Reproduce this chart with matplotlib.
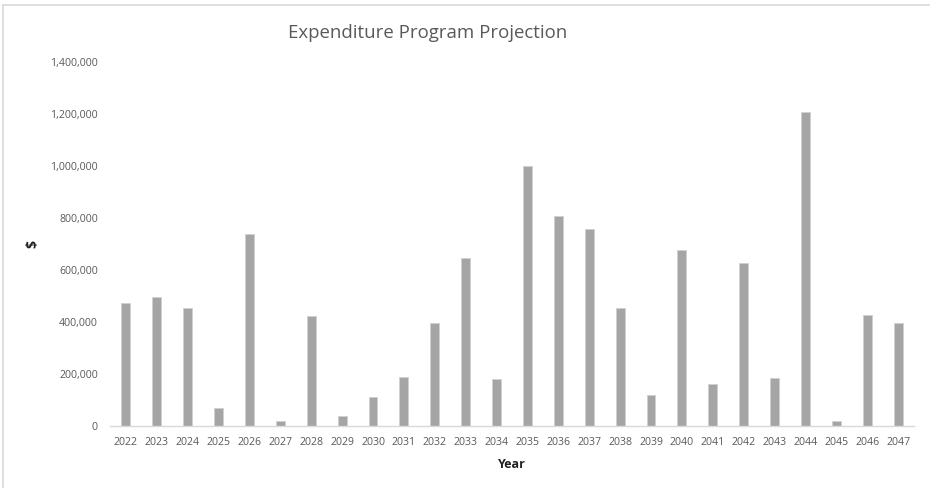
import matplotlib
matplotlib.use("Agg")
import matplotlib.pyplot as plt
from matplotlib.ticker import FuncFormatter, MultipleLocator
from matplotlib.lines import Line2D

# Yearly expenditure projection ($)
years = [str(y) for y in range(2022, 2048)]
spend = [
    474000, 497000, 454000, 69000, 737000, 20000, 423000, 38000,
    113000, 187000, 395000, 645000, 182000, 1000000, 806000, 759000,
    453000, 118000, 678000, 163000, 626000, 183000, 1206000, 20000,
    428000, 397000,
]

BAR_COLOR = "#a5a5a5"
TEXT_COLOR = "#595959"
FONT = ["Open Sans", "DejaVu Sans"]

fig = plt.figure(figsize=(9.3, 4.88), dpi=100)
ax = fig.add_axes([0.1188, 0.127, 0.8635, 0.746])

x = range(len(years))
ax.bar(x, spend, width=0.29, color=BAR_COLOR, edgecolor="#d0d0d0", linewidth=0.6)

ax.set_xlim(-0.5, len(years) - 0.5)
ax.set_ylim(0, 1400000)
ax.yaxis.set_major_locator(MultipleLocator(200000))
ax.yaxis.set_major_formatter(FuncFormatter(lambda v, _: f"{int(v):,}"))
ax.set_xticks(list(x))
ax.set_xticklabels(years)

for side in ("top", "right", "left"):
    ax.spines[side].set_visible(False)
ax.spines["bottom"].set_color("#d9d9d9")
ax.spines["bottom"].set_linewidth(1.0)
ax.tick_params(axis="both", length=0, colors=TEXT_COLOR, labelsize=7.6)
ax.tick_params(axis="x", pad=8)
ax.tick_params(axis="y", pad=9)
for lab in ax.get_xticklabels() + ax.get_yticklabels():
    lab.set_family(FONT)

ax.set_xlabel("Year", fontsize=9, fontweight="bold", color="#222222",
              family=FONT, labelpad=7)
ax.set_ylabel("$", fontsize=10, fontweight="bold", color="#222222", family=FONT)
ax.yaxis.set_label_coords(-0.089, 0.5)

fig.text(0.460, 0.932, "Expenditure Program Projection", ha="center", va="center",
         fontsize=13.4, color=TEXT_COLOR, family=FONT)

# light chart-area frame along the top and left edges
fig.add_artist(Line2D([0.003, 1.0], [0.989, 0.989], transform=fig.transFigure,
                      color="#d9d9d9", linewidth=1.2))
fig.add_artist(Line2D([0.003, 0.003], [0.0, 0.989], transform=fig.transFigure,
                      color="#d9d9d9", linewidth=1.2))

fig.savefig("out.png", dpi=100, facecolor="white")
